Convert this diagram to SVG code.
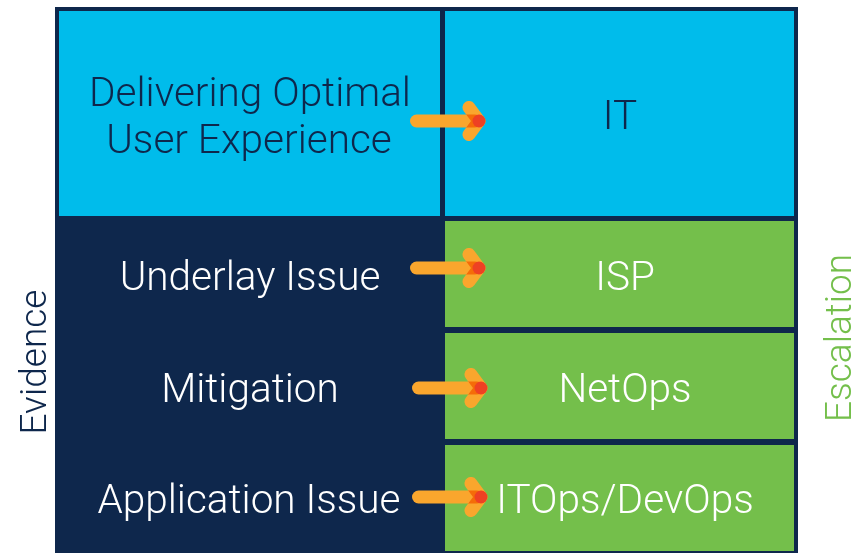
<svg xmlns="http://www.w3.org/2000/svg" width="859" height="553" viewBox="0 0 859 553">
<style>
.navy{fill:#0E274C}
.cyan{fill:#00BCEB}
.green{fill:#74BF4B}
text{font-family:Roboto,"Liberation Sans",sans-serif;font-weight:300;font-size:40.5px;text-anchor:middle}
.side{font-size:37px}
.dk{fill:#0E274C}
.wt{fill:#FFFFFF}
.gr{fill:#74BF4B}
.shaft{stroke:#FAA62D;stroke-width:13;stroke-linecap:round;stroke-linejoin:round;fill:none;mix-blend-mode:multiply}
.tip{fill:#EE4123}
</style>
<defs>
<g id="arrow" style="isolation:isolate">
<line class="shaft" x1="416.5" y1="0" x2="475" y2="0"/>
<polyline class="shaft" points="469,-13.5 479,0 469,13.5"/>
<circle class="tip" cx="479" cy="0" r="6.5"/>
</g>
</defs>
<rect id="frame" class="navy" x="55" y="7" width="743" height="546"/>
<g id="goal">
<rect class="cyan" x="59" y="11" width="381" height="205"/>
<text class="dk" x="250" y="106">Delivering Optimal</text>
<text class="dk" x="249" y="153">User Experience</text>
</g>
<g id="it">
<rect class="cyan" x="445" y="11" width="349" height="205"/>
<text class="dk" x="620" y="129">IT</text>
</g>
<g id="underlay">
<text class="wt" x="250" y="290">Underlay Issue</text>
</g>
<g id="mitigation">
<text class="wt" x="250" y="402">Mitigation</text>
</g>
<g id="application">
<text class="wt" x="249" y="513">Application Issue</text>
</g>
<g id="isp">
<rect class="green" x="445" y="221" width="349" height="106"/>
<text class="wt" x="625" y="290">ISP</text>
</g>
<g id="netops">
<rect class="green" x="445" y="333" width="349" height="106"/>
<text class="wt" x="625" y="402">NetOps</text>
</g>
<g id="itops">
<rect class="green" x="445" y="445" width="349" height="106"/>
<text class="wt" x="625" y="513">ITOps/DevOps</text>
</g>
<g id="evidence-label">
<text class="dk side" transform="translate(46,362) rotate(-90)">Evidence</text>
</g>
<g id="escalation-label">
<text class="gr side" transform="translate(851,338) rotate(-90)">Escalation</text>
</g>
<g id="connectors">
<use href="#arrow" transform="translate(0,121)"/>
<use href="#arrow" transform="translate(0,268)"/>
<use href="#arrow" transform="translate(2,388)"/>
<use href="#arrow" transform="translate(2,497)"/>
</g>
</svg>
